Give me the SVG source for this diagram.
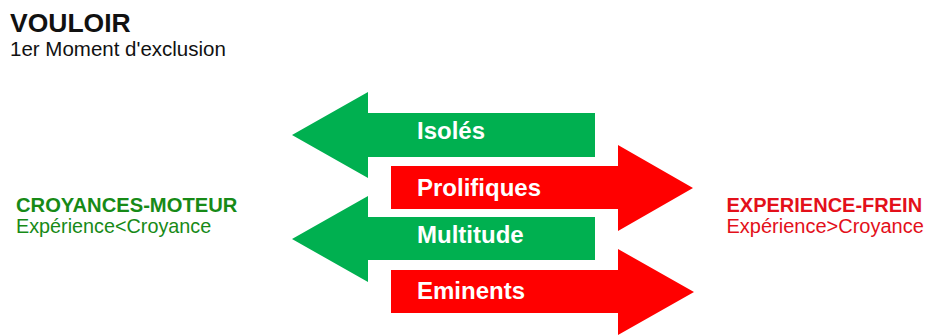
<svg xmlns="http://www.w3.org/2000/svg" width="928" height="336" viewBox="0 0 928 336">
<style>
.g{fill:#00b050}
.r{fill:#ff0000}
.lbl{font-family:"Liberation Sans",Arial,sans-serif;font-weight:bold;font-size:24px;fill:#ffffff}
.t{font-family:"Liberation Sans",Arial,sans-serif}
</style>
<rect width="928" height="336" fill="#ffffff"/>
<g id="title">
<text class="t" x="10" y="32" font-size="26.5" font-weight="bold" fill="#111">VOULOIR</text>
<text class="t" x="10" y="56" font-size="20.5" fill="#111">1er Moment d'exclusion</text>
</g>
<g id="left">
<text class="t" x="16" y="212" font-size="20.2" font-weight="bold" fill="#178a17">CROYANCES-MOTEUR</text>
<text class="t" x="16" y="233" font-size="19.8" fill="#178a17">Expérience&lt;Croyance</text>
</g>
<g id="right">
<text class="t" x="726.5" y="212" font-size="20" font-weight="bold" fill="#e3101a">EXPERIENCE-FREIN</text>
<text class="t" x="726.5" y="233" font-size="20" fill="#e3101a">Expérience&gt;Croyance</text>
</g>
<g id="isoles">
<path class="g" d="M292,135 L368,92 L368,113 L595,113 L595,157 L368,157 L368,178 Z"/>
<text class="lbl" x="417" y="139">Isolés</text>
</g>
<g id="prolifiques">
<path class="r" d="M391,166 L618,166 L618,145 L693,188 L618,231 L618,209 L391,209 Z"/>
<text class="lbl" x="417" y="196">Prolifiques</text>
</g>
<g id="multitude">
<path class="g" d="M292,239 L368,196 L368,217 L595,217 L595,260 L368,260 L368,282 Z"/>
<text class="lbl" x="417" y="243">Multitude</text>
</g>
<g id="eminents">
<path class="r" d="M391,270 L618,270 L618,249 L694,292 L618,335 L618,313 L391,313 Z"/>
<text class="lbl" x="417" y="299">Eminents</text>
</g>
<g id="connectors"></g>
</svg>
